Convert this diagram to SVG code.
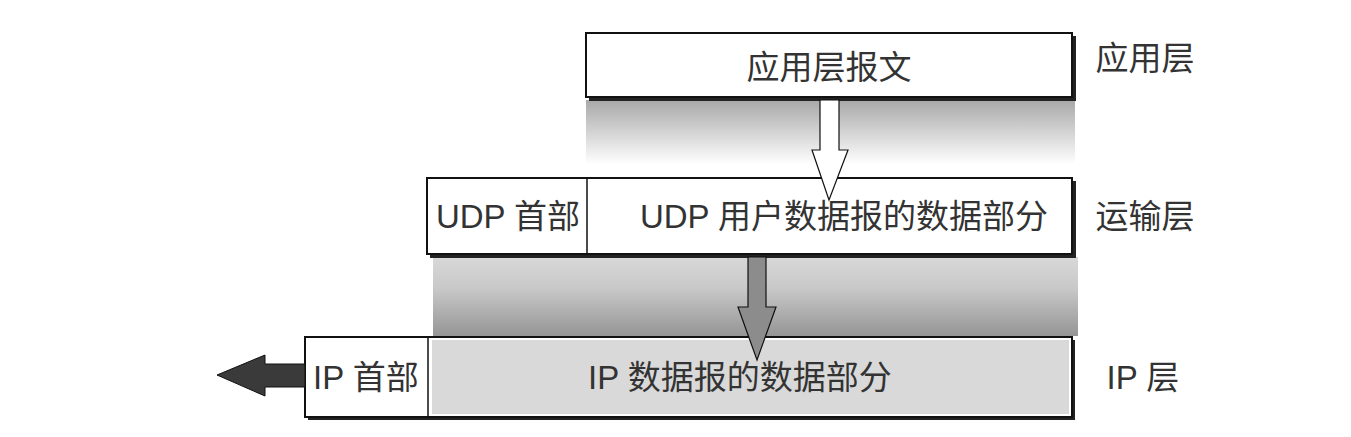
<svg xmlns="http://www.w3.org/2000/svg" width="1351" height="437" viewBox="0 0 1351 437">
<style>
.t{font-family:"Liberation Sans","Noto Sans CJK SC",sans-serif;font-size:33px;fill:#333;text-anchor:middle}
.box{stroke:#111;stroke-width:2}
.sh{fill:#222}
</style>
<defs>
<linearGradient id="g1" x1="0" y1="0" x2="0" y2="1">
<stop offset="0" stop-color="#a8a8a8"/>
<stop offset="0.85" stop-color="#ffffff"/>
</linearGradient>
<linearGradient id="g2" x1="0" y1="0" x2="0" y2="1">
<stop offset="0" stop-color="#d8d8d8"/>
<stop offset="0.4" stop-color="#c8c8c8"/>
<stop offset="1" stop-color="#959595"/>
</linearGradient>
</defs>
<rect width="1351" height="437" fill="#fff"/>
<g id="bands">
<rect x="586" y="100" width="489" height="76" fill="url(#g1)"/>
<rect x="433" y="257" width="645" height="79" fill="url(#g2)"/>
</g>
<g id="app">
<rect class="sh" x="589" y="36" width="487" height="65"/>
<rect class="box" x="586" y="33" width="486" height="64" fill="#fff"/>
<text class="t" x="829" y="79">应用层报文</text>
</g>
<g id="udp">
<rect class="sh" x="430" y="181" width="646" height="77"/>
<rect class="box" x="427" y="178" width="645" height="76" fill="#fff"/>
<line x1="587" y1="178" x2="587" y2="254" stroke="#111" stroke-width="1.5"/>
<text class="t" x="508" y="228">UDP 首部</text>
<text class="t" x="844" y="228">UDP 用户数据报的数据部分</text>
</g>
<g id="ip">
<rect class="sh" x="308" y="340" width="767" height="80"/>
<rect class="box" x="305" y="337" width="767" height="80" fill="#fff"/>
<rect x="432" y="340" width="637" height="74" fill="#d9d9d9"/>
<line x1="428" y1="337" x2="428" y2="417" stroke="#111" stroke-width="1.5"/>
<text class="t" x="366" y="389">IP 首部</text>
<text class="t" x="740" y="389">IP 数据报的数据部分</text>
</g>
<g id="labels">
<text class="t" x="1145" y="70">应用层</text>
<text class="t" x="1145" y="228">运输层</text>
<text class="t" x="1143" y="389">IP 层</text>
</g>
<g id="connectors">
<polygon points="820,100 839,100 839,150 848,150 829,200 812,150 820,150" fill="#fff" stroke="#111" stroke-width="1.2"/>
<polygon points="748,257 766,257 766,307 776,307 757,360 738,307 748,307" fill="#8c8c8c" stroke="#111" stroke-width="1.2"/>
<polygon points="305,364 265,364 265,355 217,375 265,396 265,387 305,387" fill="#3a3a3a" stroke="#111" stroke-width="1"/>
</g>
</svg>
